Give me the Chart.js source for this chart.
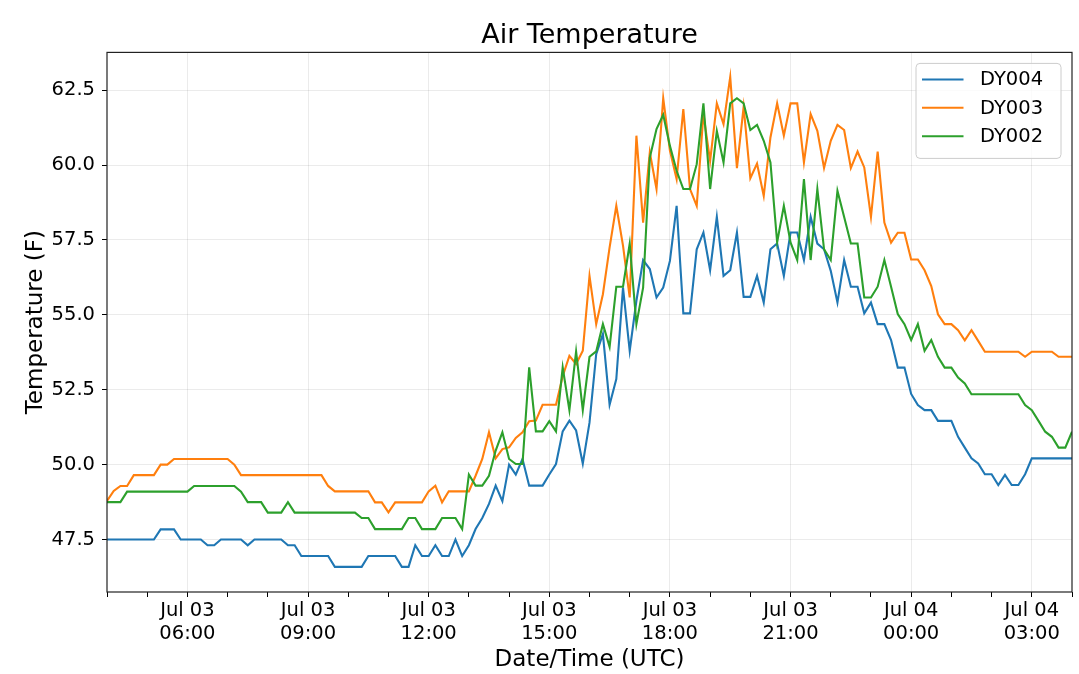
<!DOCTYPE html>
<html>
<head>
<meta charset="utf-8">
<title>Air Temperature</title>
<script src="https://cdn.jsdelivr.net/npm/chart.js@4.4.1/dist/chart.umd.min.js"></script>
<style>
  html, body { margin: 0; padding: 0; background: #fff; }
  #myChart { display: block; }
</style>
</head>
<body>
<canvas id="myChart" width="1079" height="674"></canvas>
<script>
// readings every 10 minutes, first one at Jul 03 04:00 UTC
const startMinute = 240
const stepMinutes = 10

const seriesNames = ['DY004', 'DY003', 'DY002']
const seriesColors = ['#1f77b4', '#ff7f0e', '#2ca02c']

const dy004 = [
  47.5, 47.5, 47.5, 47.5, 47.5, 47.5, 47.5, 47.5, 47.84, 47.84,
  47.84, 47.5, 47.5, 47.5, 47.5, 47.31, 47.31, 47.5, 47.5, 47.5,
  47.5, 47.31, 47.5, 47.5, 47.5, 47.5, 47.5, 47.31, 47.31, 46.95,
  46.95, 46.95, 46.95, 46.95, 46.59, 46.59, 46.59, 46.59, 46.59, 46.95,
  46.95, 46.95, 46.95, 46.95, 46.59, 46.59, 47.31, 46.95, 46.95, 47.31,
  46.95, 46.95, 47.5, 46.95, 47.31, 47.85, 48.22, 48.69, 49.3, 48.78,
  50.0, 49.67, 50.19, 49.3, 49.3, 49.3, 49.67, 50.02, 51.11, 51.47,
  51.14, 50.03, 51.4, 53.69, 54.36, 52.0, 52.86, 55.91, 53.8, 55.47,
  56.83, 56.53, 55.58, 55.91, 56.8, 58.64, 55.05, 55.05, 57.19, 57.75,
  56.49, 58.27, 56.3, 56.49, 57.75, 55.6, 55.6, 56.3, 55.41, 57.19,
  57.38, 56.3, 57.75, 57.75, 56.83, 58.27, 57.38, 57.19, 56.47, 55.41,
  56.83, 55.94, 55.94, 55.05, 55.41, 54.69, 54.69, 54.16, 53.24, 53.24,
  52.36, 51.99, 51.82, 51.82, 51.46, 51.46, 51.46, 50.93, 50.57, 50.21,
  50.04, 49.68, 49.68, 49.32, 49.66, 49.32, 49.32, 49.68, 50.21, 50.21,
  50.21, 50.21, 50.21, 50.21, 50.21
]

const dy003 = [
  48.79, 49.12, 49.29, 49.29, 49.65, 49.65, 49.65, 49.65, 50.0, 50.0,
  50.19, 50.19, 50.19, 50.19, 50.19, 50.19, 50.19, 50.19, 50.19, 50.0,
  49.65, 49.65, 49.65, 49.65, 49.65, 49.65, 49.65, 49.65, 49.65, 49.65,
  49.65, 49.65, 49.65, 49.29, 49.11, 49.11, 49.11, 49.11, 49.11, 49.11,
  48.74, 48.74, 48.41, 48.74, 48.74, 48.74, 48.74, 48.74, 49.11, 49.3,
  48.74, 49.11, 49.11, 49.11, 49.11, 49.63, 50.19, 51.08, 50.21, 50.52,
  50.58, 50.89, 51.08, 51.45, 51.47, 52.0, 52.0, 52.0, 52.95, 53.63,
  53.36, 53.8, 56.3, 54.69, 55.69, 57.25, 58.64, 57.31, 55.58, 60.98,
  58.08, 60.42, 59.2, 62.23, 60.48, 59.53, 61.87, 59.2, 58.64, 61.7,
  60.14, 62.06, 61.37, 62.94, 59.9, 61.94, 59.56, 60.05, 58.97, 60.92,
  62.06, 60.98, 62.06, 62.06, 60.09, 61.7, 61.14, 59.9, 60.81, 61.34,
  61.17, 59.9, 60.45, 59.92, 58.27, 60.45, 58.08, 57.41, 57.74, 57.74,
  56.85, 56.85, 56.49, 55.96, 55.02, 54.69, 54.69, 54.49, 54.15, 54.49,
  54.13, 53.77, 53.77, 53.77, 53.77, 53.77, 53.77, 53.6, 53.77, 53.77,
  53.77, 53.77, 53.6, 53.6, 53.6
]

const dy002 = [
  48.75, 48.75, 48.75, 49.1, 49.1, 49.1, 49.1, 49.1, 49.1, 49.1,
  49.1, 49.1, 49.1, 49.29, 49.29, 49.29, 49.29, 49.29, 49.29, 49.29,
  49.1, 48.75, 48.75, 48.75, 48.4, 48.4, 48.4, 48.75, 48.4, 48.4,
  48.4, 48.4, 48.4, 48.4, 48.4, 48.4, 48.4, 48.4, 48.22, 48.22,
  47.85, 47.85, 47.85, 47.85, 47.85, 48.22, 48.22, 47.85, 47.85, 47.85,
  48.22, 48.22, 48.22, 47.85, 49.67, 49.3, 49.3, 49.63, 50.47, 51.08,
  50.19, 50.02, 50.02, 53.25, 51.11, 51.11, 51.45, 51.11, 53.25, 51.82,
  53.78, 51.82, 53.6, 53.78, 54.69, 53.93, 55.94, 55.94, 57.38, 54.69,
  55.91, 60.25, 61.2, 61.68, 60.64, 59.81, 59.2, 59.2, 60.03, 62.06,
  59.2, 61.14, 60.09, 62.06, 62.23, 62.06, 61.17, 61.34, 60.81, 60.09,
  57.42, 58.64, 57.42, 56.83, 59.53, 56.83, 59.2, 57.19, 56.83, 59.14,
  58.27, 57.38, 57.38, 55.58, 55.58, 55.94, 56.83, 55.94, 55.03, 54.69,
  54.16, 54.69, 53.8, 54.16, 53.6, 53.24, 53.24, 52.91, 52.71, 52.35,
  52.35, 52.35, 52.35, 52.35, 52.35, 52.35, 52.35, 51.99, 51.82, 51.46,
  51.1, 50.93, 50.57, 50.57, 51.1
]

const yTicks = [47.5, 50.0, 52.5, 55.0, 57.5, 60.0, 62.5]
const dayNames = ['Jul 03', 'Jul 04']

const seriesValues = [dy004, dy003, dy002]

function toPoints(values) {
  return values.map((v, i) => ({ x: startMinute + i * stepMinutes, y: v }))
}

const endMinute = startMinute + (dy004.length - 1) * stepMinutes

const datasets = seriesNames.map((name, k) => ({
  label: name,
  data: toPoints(seriesValues[k]),
  borderColor: seriesColors[k],
  backgroundColor: seriesColors[k],
  borderWidth: 2.1,
  pointRadius: 0,
  tension: 0,
  order: seriesNames.length - k
}))

const isMajor = (v) => v % 180 === 0
const gridGray = 'rgba(0, 0, 0, 0.08)'

// black frame round the plot, like matplotlib spines
const frame = {
  id: 'frame',
  afterDatasetsDraw(chart) {
    const { ctx, chartArea: a } = chart
    ctx.save()
    ctx.strokeStyle = '#222'
    ctx.lineWidth = 1.2
    ctx.strokeRect(a.left, a.top, a.right - a.left, a.bottom - a.top)
    ctx.restore()
  }
}

// legend inside the plot, upper right
const insideLegend = {
  id: 'insideLegend',
  afterDraw(chart) {
    const { ctx, chartArea: a } = chart
    const w = 145, h = 95
    const x = a.right - 11 - w, y = a.top + 11
    ctx.save()
    ctx.beginPath()
    ctx.roundRect(x, y, w, h, 4)
    ctx.fillStyle = 'rgba(255, 255, 255, 0.8)'
    ctx.fill()
    ctx.strokeStyle = '#cccccc'
    ctx.lineWidth = 1
    ctx.stroke()
    ctx.font = "19.5px 'DejaVu Sans'"
    ctx.textBaseline = 'middle'
    ctx.fillStyle = '#000'
    chart.data.datasets.forEach((ds, i) => {
      const ry = y + 16 + i * 28.4
      ctx.beginPath()
      ctx.moveTo(x + 6, ry)
      ctx.lineTo(x + 47.5, ry)
      ctx.strokeStyle = ds.borderColor
      ctx.lineWidth = 2
      ctx.stroke()
      ctx.fillText(ds.label, x + 64, ry + 1)
    })
    ctx.restore()
  }
}

Chart.defaults.font.family = "'DejaVu Sans', sans-serif"
Chart.defaults.color = '#000'

const config = {
  type: 'line',
  data: { datasets },
  options: {
    responsive: false,
    animation: false,
    layout: { padding: { left: 0, right: 7, top: 0, bottom: 0 } },
    scales: {
      x: {
        type: 'linear',
        min: startMinute,
        max: endMinute,
        afterFit: (scale) => { scale.height = 82 },
        afterBuildTicks: (scale) => {
          const ticks = []
          for (let m = startMinute; m <= endMinute; m += 60) ticks.push({ value: m })
          scale.ticks = ticks
        },
        ticks: {
          autoSkip: false,
          maxRotation: 0,
          padding: 2,
          font: { size: 19.5 },
          callback: (v) => {
            if (!isMajor(v)) return ''
            const day = dayNames[Math.floor(v / 1440)]
            const hh = String(Math.floor((v % 1440) / 60)).padStart(2, '0')
            return [day, hh + ':00']
          }
        },
        grid: {
          color: (c) => (c.tick && isMajor(c.tick.value)) ? gridGray : 'rgba(0,0,0,0)',
          tickColor: '#000',
          tickLength: 5,
          lineWidth: 1
        },
        border: { display: false },
        title: {
          display: true,
          text: 'Date/Time (UTC)',
          font: { size: 23 },
          padding: { top: 0, bottom: 0 }
        }
      },
      y: {
        min: 45.75,
        max: 63.76,
        afterFit: (scale) => { scale.width = 107 },
        afterBuildTicks: (scale) => {
          scale.ticks = yTicks.map(v => ({ value: v }))
        },
        ticks: {
          padding: 7,
          font: { size: 19.5 },
          callback: (v) => Number(v).toFixed(1)
        },
        grid: {
          color: gridGray,
          tickColor: '#000',
          tickLength: 5,
          lineWidth: 1
        },
        border: { display: false },
        title: {
          display: true,
          text: 'Temperature (F)',
          font: { size: 23 },
          padding: { top: 22, bottom: 0 }
        }
      }
    },
    plugins: {
      legend: { display: false },
      tooltip: { enabled: false },
      title: {
        display: true,
        text: 'Air Temperature',
        fullSize: false,
        font: { size: 27, weight: 'normal' },
        color: '#000',
        padding: { top: 20, bottom: 0 }
      }
    }
  },
  plugins: [frame, insideLegend]
}

const myChart = new Chart(document.getElementById('myChart'), config)
</script>
</body>
</html>
